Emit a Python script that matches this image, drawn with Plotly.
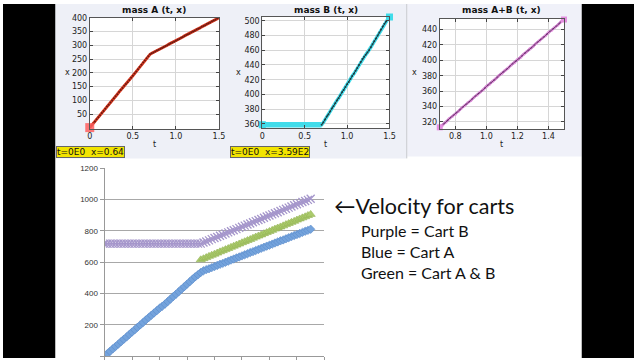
import plotly.graph_objects as go

W, H = 640, 360
def px(x): return x / W
def py(y): return 1 - y / H

# ---------------- data ----------------
t = [0.00, 0.02, 0.04, 0.06, 0.08, 0.10, 0.12, 0.14, 0.16, 0.18,
     0.20, 0.22, 0.24, 0.26, 0.28, 0.30, 0.32, 0.34, 0.36, 0.38,
     0.40, 0.42, 0.44, 0.46, 0.48, 0.50, 0.52, 0.54, 0.56, 0.58,
     0.60, 0.62, 0.64, 0.66, 0.68, 0.70, 0.72, 0.74, 0.76, 0.78,
     0.80, 0.82, 0.84, 0.86, 0.88, 0.90, 0.92, 0.94, 0.96, 0.98,
     1.00, 1.02, 1.04, 1.06, 1.08, 1.10, 1.12, 1.14, 1.16, 1.18,
     1.20, 1.22, 1.24, 1.26, 1.28, 1.30, 1.32, 1.34, 1.36, 1.38,
     1.40, 1.42, 1.44, 1.46, 1.48, 1.50]
t_ab = t[35:]

pos_a = [0.64, 8, 15.5, 23, 31, 38, 46, 54, 61, 69,
         77, 84, 92, 99, 107, 115, 122, 130, 137, 145,
         153, 159, 166, 174, 182, 189, 197, 205, 213, 221,
         229, 237, 245, 253, 260, 267, 271, 274, 277, 281,
         284, 287, 290, 294, 297, 300, 304, 307, 310, 313,
         316, 320, 323, 327, 330, 334, 337, 340, 343, 347,
         350, 353, 357, 360, 363, 367, 370, 373, 377, 380,
         383, 387, 390, 393, 397, 400]
pos_b = [359, 359, 359, 359, 359, 359, 359, 359, 359, 359,
         359, 359, 359, 359, 359, 359, 359, 359, 359, 359,
         359, 359, 359, 359, 359, 359, 359, 359, 359, 359,
         359, 359, 359, 359, 359, 359, 362, 366, 370, 373,
         377, 381, 384, 388, 392, 395, 399, 403, 406, 410,
         414, 417, 421, 425, 428, 432, 436, 440, 444, 448,
         451, 454, 457, 460, 464, 468, 472, 476, 480, 484,
         488, 492, 496, 499, 502, 505]
pos_ab = [313, 316, 320, 324, 327, 330, 334, 338, 341, 345,
          348, 352, 355, 359, 362, 366, 369, 373, 376, 380,
          383, 387, 390, 394, 397, 401, 404, 408, 411, 415,
          418, 422, 425, 429, 432, 436, 439, 443, 446, 450, 453]

vel_a = [0, 15, 30, 46, 61, 76, 92, 107, 122, 138,
         153, 168, 184, 199, 214, 230, 245, 260, 275, 290,
         305, 318, 332, 348, 364, 380, 395, 411, 427, 443,
         459, 475, 491, 506, 520, 534, 545, 552, 558, 565,
         572, 579, 586, 592, 599, 606, 613, 620, 627, 633,
         640, 647, 654, 661, 667, 674, 681, 688, 695, 702,
         708, 715, 722, 729, 736, 742, 749, 756, 763, 770,
         776, 783, 790, 797, 803, 810]
vel_b = [718, 718, 718, 718, 718, 718, 718, 718, 718, 718,
         718, 718, 718, 718, 718, 718, 718, 718, 718, 718,
         718, 718, 718, 718, 718, 718, 718, 718, 718, 718,
         718, 718, 718, 718, 718, 718, 725, 732, 739, 747,
         754, 761, 768, 775, 783, 790, 797, 804, 811, 819,
         826, 833, 840, 847, 855, 862, 869, 876, 883, 891,
         898, 905, 912, 919, 927, 934, 941, 948, 955, 963,
         970, 977, 984, 991, 998, 1005]
vel_ab = [615, 622, 629, 637, 644, 651, 658, 666, 673, 680,
          687, 695, 702, 709, 716, 724, 731, 738, 745, 753,
          760, 767, 774, 782, 789, 796, 803, 811, 818, 825,
          832, 840, 847, 854, 861, 869, 876, 883, 890, 898, 905]

ticks_t = [0, 0.5, 1.0, 1.5]
ticks_t_text = ["0", "0.5", "1.0", "1.5"]
ticks_t3 = [0.8, 1.0, 1.2, 1.4]
ticks_t3_text = ["0.8", "1.0", "1.2", "1.4"]
ticks_a = [50, 100, 150, 200, 250, 300, 350, 400]
ticks_b = [360, 380, 400, 420, 440, 460, 480, 500]
ticks_ab = [320, 340, 360, 380, 400, 420, 440]
ticks_vel = [0, 200, 400, 600, 800, 1000, 1200]
ticks_cat = [0, 0.2, 0.4, 0.6, 0.8, 1.0, 1.2, 1.4, 1.6]

# ---------------- figure ----------------
fig = go.Figure()

# Panel A
fig.add_trace(go.Scatter(x=t, y=pos_a, mode="lines+markers", xaxis="x", yaxis="y",
                         line=dict(color="#dc3a22", width=3),
                         marker=dict(size=2, color="#6a1a10")))
fig.add_trace(go.Scatter(x=t[:1], y=pos_a[:1], mode="markers", xaxis="x", yaxis="y",
                         marker=dict(symbol="square", size=9, color="rgba(255,95,95,0.85)"),
                         cliponaxis=False))
# Panel B
fig.add_trace(go.Scatter(x=t, y=pos_b, mode="lines", xaxis="x2", yaxis="y2",
                         line=dict(color="#40dcea", width=3.5)))
fig.add_trace(go.Scatter(x=t[:36], y=pos_b[:36], mode="lines", xaxis="x2", yaxis="y2",
                         line=dict(color="#40dcea", width=5.5)))
fig.add_trace(go.Scatter(x=t[35:], y=pos_b[35:], mode="lines+markers", xaxis="x2", yaxis="y2",
                         line=dict(color="#1f3a40", width=1),
                         marker=dict(size=2, color="#1f3a40")))
fig.add_trace(go.Scatter(x=[t[0], t[-1]], y=[pos_b[0], pos_b[-1]], mode="markers", xaxis="x2", yaxis="y2",
                         marker=dict(symbol="square", size=7, color="#40dcea"), cliponaxis=False))
# Panel A+B
fig.add_trace(go.Scatter(x=t_ab, y=pos_ab, mode="lines+markers", xaxis="x3", yaxis="y3",
                         line=dict(color="#b461b8", width=2.5),
                         marker=dict(size=3, color="#e58fe0")))
fig.add_trace(go.Scatter(x=t_ab, y=pos_ab, mode="lines", xaxis="x3", yaxis="y3",
                         line=dict(color="#4a2a4a", width=0.8)))
fig.add_trace(go.Scatter(x=[t_ab[0], t_ab[-1]], y=[pos_ab[0], pos_ab[-1]], mode="markers",
                         xaxis="x3", yaxis="y3",
                         marker=dict(symbol="square", size=6, color="#e48fe0"), cliponaxis=False))

# Bottom Excel-like chart
fig.add_trace(go.Scatter(x=t, y=vel_a, mode="lines+markers", xaxis="x4", yaxis="y4",
                         line=dict(color="#6c9dd8", width=1),
                         marker=dict(symbol="diamond", size=6.5, color="#74a3dc",
                                     line=dict(color="#5b8ccb", width=0.6))))
fig.add_trace(go.Scatter(x=t, y=vel_b, mode="lines+markers", xaxis="x4", yaxis="y4",
                         line=dict(color="#a596cb", width=1.2),
                         marker=dict(symbol="x-thin", size=8, color="#a596cb",
                                     line=dict(color="#a596cb", width=1.3))))
fig.add_trace(go.Scatter(x=t_ab, y=vel_ab, mode="lines+markers", xaxis="x4", yaxis="y4",
                         line=dict(color="#a7c866", width=1),
                         marker=dict(symbol="triangle-up", size=8, color="#abcb6c",
                                     line=dict(color="#93b455", width=0.6))))

tick_font = dict(family="DejaVu Sans", size=8, color="#222")

def top_axis(dom, rng, tv, tt=None):
    d = dict(domain=dom, range=rng, tickvals=tv, ticks="inside", ticklen=3, tickcolor="#444",
             showline=True, linecolor="#555", linewidth=1, mirror="ticks",
             showgrid=True, gridcolor="#d6d6d6", gridwidth=1, zeroline=False,
             tickfont=tick_font, fixedrange=True)
    if tt is not None:
        d["ticktext"] = tt
    return d

layout = dict(
    width=W, height=H, margin=dict(l=0, r=0, t=0, b=0),
    paper_bgcolor="white", plot_bgcolor="rgba(0,0,0,0)", showlegend=False,
    xaxis=top_axis([px(88), px(219)], [0, 1.5], ticks_t, ticks_t_text),
    yaxis=top_axis([py(127), py(14)], [-4, 400], ticks_a),
    xaxis2=top_axis([px(263), px(392)], [0, 1.5], ticks_t, ticks_t_text),
    yaxis2=top_axis([py(126), py(13)], [354.7, 505.3], ticks_b),
    xaxis3=top_axis([px(443), px(569)], [0.7, 1.5], ticks_t3, ticks_t3_text),
    yaxis3=top_axis([py(127), py(15)], [311, 454], ticks_ab),
    xaxis4=dict(domain=[px(103), px(326)], range=[0, 1.6], tickvals=ticks_cat,
                showticklabels=False, ticks="outside", ticklen=4, tickcolor="#999",
                showline=True, linecolor="#999", showgrid=False, zeroline=False),
    yaxis4=dict(domain=[py(358), py(167)], range=[0, 1200], tickvals=ticks_vel,
                ticks="outside", ticklen=4, tickcolor="#999",
                showline=True, linecolor="#999", showgrid=True, gridcolor="#a8a8a8",
                zeroline=False, tickfont=dict(family="Liberation Sans", size=8, color="#333")),
)
for k in ["xaxis", "xaxis2", "xaxis3", "xaxis4"]:
    layout[k]["anchor"] = "y" + k[5:]
for k in ["yaxis", "yaxis2", "yaxis3", "yaxis4"]:
    layout[k]["anchor"] = "x" + k[5:]
fig.update_layout(**layout)

shapes = [
    dict(type="rect", xref="paper", yref="paper", x0=px(53), x1=px(409), y0=py(157), y1=1,
         fillcolor="#eef0f7", line=dict(width=0), layer="below"),
    dict(type="rect", xref="paper", yref="paper", x0=px(410), x1=px(587), y0=py(155), y1=1,
         fillcolor="#f0f1f9", line=dict(width=0), layer="below"),
    dict(type="line", xref="paper", yref="paper", x0=px(409.5), x1=px(409.5), y0=py(157), y1=1,
         line=dict(color="#c4c6cc", width=1), layer="below"),
    dict(type="rect", xref="paper", yref="paper", x0=0, x1=px(53), y0=0, y1=1,
         fillcolor="black", line=dict(width=0), layer="above"),
    dict(type="rect", xref="paper", yref="paper", x0=px(587), x1=1, y0=0, y1=1,
         fillcolor="black", line=dict(width=0), layer="above"),
]
for s in ["", "2", "3"]:
    shapes.append(dict(type="rect", xref="x%s domain" % s, yref="y%s domain" % s,
                       x0=0, x1=1, y0=0, y1=1, fillcolor="white",
                       line=dict(width=0), layer="below"))

ann = []
title_font = dict(family="DejaVu Sans", size=9, color="#111")
for xc, txt in [(153.5, "<b>mass A (t, x)</b>"), (327.5, "<b>mass B (t, x)</b>"),
                (506, "<b>mass A+B (t, x)</b>")]:
    ann.append(dict(x=px(xc), y=py(6), xref="paper", yref="paper", text=txt, showarrow=False,
                    font=title_font, xanchor="center", yanchor="middle"))
for xc in [153.5, 327.5, 506]:
    ann.append(dict(x=px(xc), y=py(143), xref="paper", yref="paper", text="t", showarrow=False,
                    font=tick_font, xanchor="center", yanchor="middle"))
for xc in [65, 239, 417]:
    ann.append(dict(x=px(xc), y=py(70), xref="paper", yref="paper", text="x", showarrow=False,
                    font=tick_font, xanchor="center", yanchor="middle"))
for x0, txt in [(54, "t=0E0  x=0.64"), (230, "t=0E0  x=3.59E2")]:
    ann.append(dict(x=px(x0), y=py(151), xref="paper", yref="paper", text=txt, showarrow=False,
                    font=dict(family="DejaVu Sans", size=9, color="#111"),
                    bgcolor="#f2e400", bordercolor="#666", borderwidth=1, borderpad=0,
                    xanchor="left", yanchor="middle"))
ann.append(dict(x=px(334), y=py(205), xref="paper", yref="paper", text="←Velocity for carts",
                showarrow=False, font=dict(family="Lato", size=21.5, color="#111"),
                xanchor="left", yanchor="middle"))
for yc, txt in [(230, "Purple = Cart B"), (252, "Blue = Cart A"), (273, "Green = Cart A &amp; B")]:
    ann.append(dict(x=px(361), y=py(yc), xref="paper", yref="paper", text=txt,
                    showarrow=False, font=dict(family="Lato", size=16, color="#111"),
                    xanchor="left", yanchor="middle"))

fig.update_layout(shapes=shapes, annotations=ann)
fig.write_html("out.html", config={"displayModeBar": False},
               post_script="document.body.style.margin='0';document.body.style.overflow='hidden';")
